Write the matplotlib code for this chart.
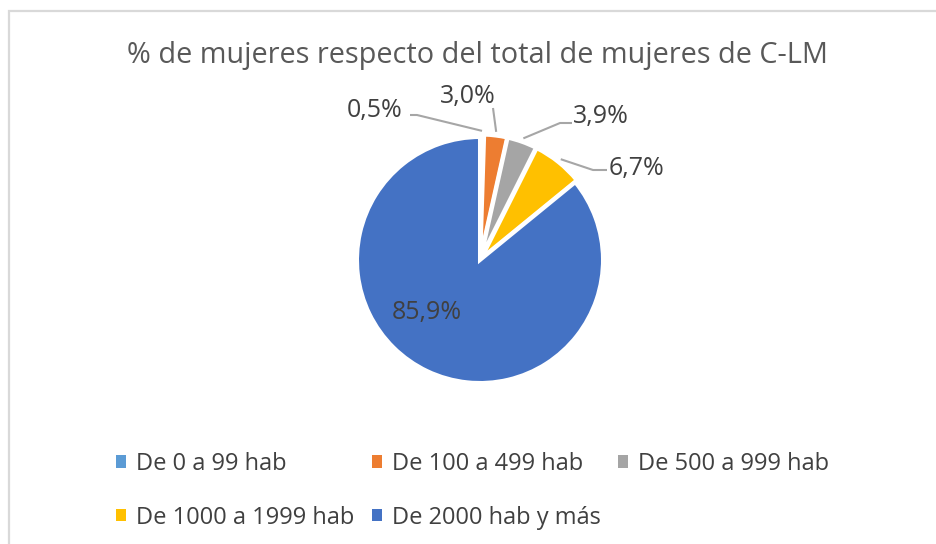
import numpy as np
import matplotlib
matplotlib.use("Agg")
import matplotlib.pyplot as plt
from matplotlib.patches import Rectangle, Patch

# ---------------- data ----------------
categories = ["De 0 a 99 hab", "De 100 a 499 hab", "De 500 a 999 hab",
              "De 1000 a 1999 hab", "De 2000 hab y más"]
values = [0.5, 3.0, 3.9, 6.7, 85.9]
value_labels = ["0,5%", "3,0%", "3,9%", "6,7%", "85,9%"]
colors = ["#5B9BD5", "#ED7D31", "#A5A5A5", "#FFC000", "#4472C4"]
title = "% de mujeres respecto del total de mujeres de C-LM"

# ---------------- layout ----------------
W, H = 936, 544
FONT = "Open Sans"
TXT = "#404040"
fig = plt.figure(figsize=(W / 100, H / 100), dpi=100)
fig.patch.set_facecolor("white")

# chart frame (left and top edges visible)
fig.add_artist(Rectangle((9 / W, -0.05), 1.2, 1 - 11 / H + 0.05,
                         transform=fig.transFigure, fill=False,
                         edgecolor="#D9D9D9", linewidth=1.6))

R_PX = 123.0
cx, cy = 480, 260
half = 220
L = half / R_PX
ax = fig.add_axes([(cx - half) / W, (H - cy - half) / H, 2 * half / W, 2 * half / H])
ax.set_xlim(-L, L)
ax.set_ylim(-L, L)
ax.axis("off")

explode = [0.02, 0.02, 0.02, 0.02, 0.0]
wedges, _ = ax.pie(values, colors=colors, startangle=90, counterclock=False,
                   explode=explode, radius=1.0,
                   wedgeprops=dict(edgecolor="white", linewidth=2.9))
ax.set_xlim(-L, L)
ax.set_ylim(-L, L)

def px2d(px, py):
    return ((px - cx) / R_PX, (cy - py) / R_PX)

# label centres (pixel layout) and leader elbows
label_pos = [(375, 110), (468, 96), (601, 116), (637, 168), (427, 312)]
leader_pts = [
    [(410, 115), (417, 115)],
    [(493, 108), (493, 108)],
    [(572, 123), (560, 123)],
    [(607, 170), (593, 170)],
    None,
]

for i, w in enumerate(wedges):
    x, y = px2d(*label_pos[i])
    ax.text(x, y, value_labels[i], ha="center", va="center",
            fontsize=18, family=FONT, color=TXT)
    if leader_pts[i] is not None:
        mid = np.deg2rad((w.theta1 + w.theta2) / 2)
        cxw, cyw = w.center
        ex, ey = cxw + 1.03 * np.cos(mid), cyw + 1.03 * np.sin(mid)
        (ax1, ay1), (ax2, ay2) = [px2d(*p) for p in leader_pts[i]]
        ax.plot([ax1, ax2, ex], [ay1, ay2, ey], color="#A6A6A6", lw=1.5,
                solid_capstyle="butt", clip_on=False)

fig.text(478 / W, 1 - 56 / H, title, ha="center", va="center",
         fontsize=20.8, family=FONT, color="#595959")

handles = [Patch(facecolor=c, edgecolor="none") for c in colors]
order = [0, 3, 1, 4, 2]
leg = fig.legend([handles[i] for i in order], [categories[i] for i in order],
                 ncol=3, loc="upper left", bbox_to_anchor=(116 / W, 1 - 452 / H),
                 frameon=False, prop=dict(family=FONT, size=17),
                 handlelength=0.42, handleheight=0.42, handletextpad=0.42,
                 columnspacing=0.75, labelspacing=1.25, borderpad=0, borderaxespad=0)
for t in leg.get_texts():
    t.set_color(TXT)

fig.savefig("out.png", dpi=100, facecolor="white")
